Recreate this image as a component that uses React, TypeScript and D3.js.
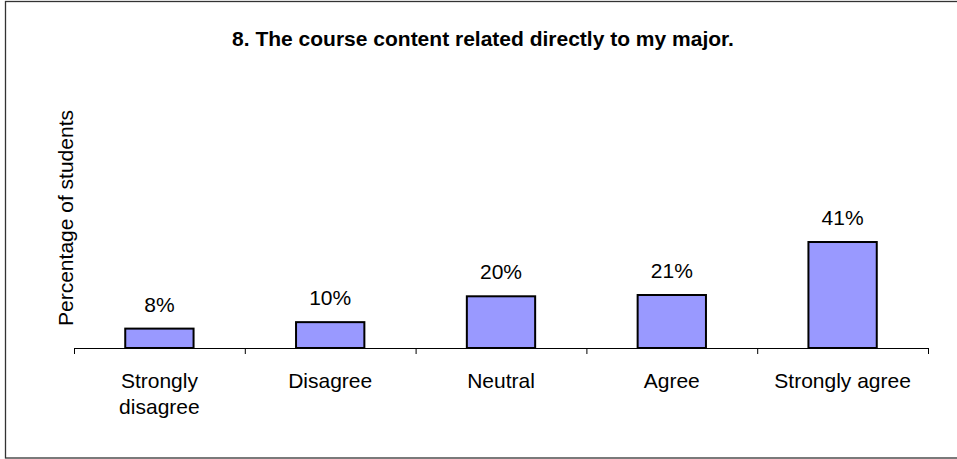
import React from "react";
import * as d3 from "d3";

const categories: string[][] = [
  ["Strongly", "disagree"],
  ["Disagree"],
  ["Neutral"],
  ["Agree"],
  ["Strongly agree"],
];
const values: number[] = [7.5, 10, 20, 20.5, 41];
const valueLabels: string[] = ["8%", "10%", "20%", "21%", "41%"];
const title = "8. The course content related directly to my major.";
const yLabel = "Percentage of students";

const W = 957;
const H = 459;
const FONT = "'Liberation Sans', Arial, Helvetica, sans-serif";

export default function App() {
  const x0 = 74;
  const x1 = 928;
  const yBase = 348;
  const band = (x1 - x0) / values.length;
  const xc = d3
    .scalePoint<number>()
    .domain(values.map((_, i) => i))
    .range([x0 + band / 2, x1 - band / 2]);
  const y = d3.scaleLinear().domain([0, 100]).range([yBase, yBase - 258.5]);

  return (
    <div style={{ position: "absolute", left: 0, top: 0 }}>
      <svg width={W} height={H} style={{ display: "block" }} fontFamily={FONT}>
        <rect x={0} y={0} width={W} height={H} fill="#fff" />
        <rect x={5.5} y={1.5} width={960} height={456.5} fill="none" stroke="#333" strokeWidth={1.3} />
        <text x={483} y={46} textAnchor="middle" fontWeight="bold" fontSize={21} fill="#000">
          {title}
        </text>
        <text
          transform={`translate(73,218) rotate(-90)`}
          textAnchor="middle"
          fontSize={21}
          fill="#000"
        >
          {yLabel}
        </text>
        {values.map((v, i) => {
          const cx = xc(i) as number;
          const bw = band * 0.4;
          return (
            <g key={i}>
              <rect
                x={cx - bw / 2}
                y={y(v)}
                width={bw}
                height={yBase - y(v)}
                fill="#9999FF"
                stroke="#000"
                strokeWidth={2}
              />
              <text x={cx} y={y(v) - 17} textAnchor="middle" fontSize={21} fill="#000">
                {valueLabels[i]}
              </text>
              {categories[i].map((line, j) => (
                <text key={j} x={cx} y={388 + j * 26} textAnchor="middle" fontSize={21} fill="#000">
                  {line}
                </text>
              ))}
            </g>
          );
        })}
        <line x1={x0} x2={x1} y1={yBase + 0.5} y2={yBase + 0.5} stroke="#000" strokeWidth={1} />
        {d3.range(values.length + 1).map((i) => (
          <line
            key={i}
            x1={x0 + band * i + 0.5}
            x2={x0 + band * i + 0.5}
            y1={yBase}
            y2={yBase + 6}
            stroke="#000"
            strokeWidth={1}
          />
        ))}
      </svg>
    </div>
  );
}
